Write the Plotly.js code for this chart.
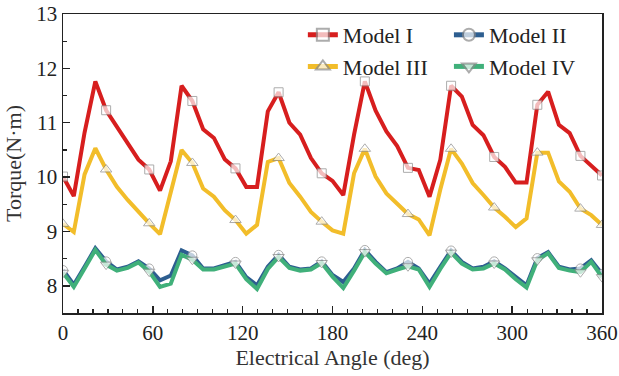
<!DOCTYPE html>
<html><head><meta charset="utf-8">
<script src="https://cdn.plot.ly/plotly-3.0.1.min.js"></script>
<style>html,body{margin:0;padding:0;background:#fff}#chart{width:619px;height:376px}</style>
</head><body><div id="chart"></div>
<script>
const angle = [0, 7.2, 14.4, 21.6, 28.8, 36, 43.2, 50.4, 57.6, 64.8, 72, 79.2, 86.4, 93.6, 100.8, 108, 115.2, 122.4, 129.6, 136.8, 144, 151.2, 158.4, 165.6, 172.8, 180, 187.2, 194.4, 201.6, 208.8, 216, 223.2, 230.4, 237.6, 244.8, 252, 259.2, 266.4, 273.6, 280.8, 288, 295.2, 302.4, 309.6, 316.8, 324, 331.2, 338.4, 345.6, 352.8, 360];

const modelI = [10.01, 9.65, 10.82, 11.76, 11.23, 10.92, 10.62, 10.32, 10.14, 9.75, 10.29, 11.68, 11.40, 10.88, 10.72, 10.33, 10.16, 9.82, 9.82, 11.21, 11.56, 11.00, 10.78, 10.35, 10.07, 9.93, 9.67, 10.78, 11.76, 11.22, 10.84, 10.57, 10.17, 10.13, 9.64, 10.32, 11.68, 11.48, 10.96, 10.77, 10.37, 10.19, 9.90, 9.90, 11.33, 11.57, 10.96, 10.81, 10.39, 10.22, 10.03];

const modelII = [8.29, 8.02, 8.35, 8.69, 8.45, 8.30, 8.35, 8.45, 8.32, 8.10, 8.19, 8.65, 8.56, 8.32, 8.32, 8.38, 8.44, 8.16, 8.01, 8.35, 8.57, 8.35, 8.30, 8.32, 8.45, 8.20, 8.07, 8.32, 8.66, 8.44, 8.25, 8.32, 8.44, 8.32, 8.04, 8.35, 8.65, 8.44, 8.32, 8.35, 8.45, 8.32, 8.16, 8.01, 8.51, 8.62, 8.35, 8.30, 8.32, 8.47, 8.22];

const modelIII = [9.14, 8.99, 10.05, 10.53, 10.14, 9.82, 9.58, 9.36, 9.15, 8.95, 9.75, 10.50, 10.26, 9.79, 9.64, 9.39, 9.21, 8.96, 9.12, 10.28, 10.35, 9.89, 9.64, 9.36, 9.18, 9.02, 8.96, 10.07, 10.52, 10.01, 9.70, 9.52, 9.32, 9.22, 8.93, 9.77, 10.52, 10.25, 9.89, 9.67, 9.44, 9.27, 9.08, 9.24, 10.45, 10.45, 9.92, 9.73, 9.42, 9.30, 9.12];

const modelIV = [8.24, 7.98, 8.32, 8.66, 8.39, 8.28, 8.33, 8.43, 8.26, 7.98, 8.04, 8.57, 8.48, 8.30, 8.30, 8.36, 8.41, 8.12, 7.94, 8.31, 8.53, 8.33, 8.28, 8.30, 8.42, 8.17, 7.96, 8.28, 8.62, 8.41, 8.23, 8.30, 8.36, 8.30, 7.98, 8.31, 8.61, 8.41, 8.30, 8.32, 8.41, 8.30, 8.12, 7.97, 8.47, 8.60, 8.33, 8.28, 8.25, 8.44, 8.16];

const seriesNames = ['Model I', 'Model II', 'Model III', 'Model IV'];
const xTickVals = [0, 60, 120, 180, 240, 300, 360];
const yTickVals = [8, 9, 10, 11, 12, 13];

const SERIF = 'Liberation Serif, Times New Roman, serif';

function markEvery(n, val) {
  return Array.from({length: n}, (_, i) => (i % 4 === 0 || i === n - 1) ? val : 0);
}

function series(name, y, color, symbol, size, legend) {
  return {
    type: 'scatter', mode: 'lines+markers', name: name, x: angle, y: y, legend: legend,
    line: {color: color, width: 4},
    marker: {symbol: symbol, color: 'white', size: markEvery(y.length, size),
             line: {color: '#8a8a8a', width: markEvery(y.length, 1)}}
  };
}

const traces = [
  series(seriesNames[0], modelI, '#d71e1e', 'square', 9, 'legend'),
  series(seriesNames[1], modelII, '#2d5e90', 'circle', 9, 'legend2'),
  series(seriesNames[2], modelIII, '#f2bd2a', 'triangle-up', 10, 'legend'),
  series(seriesNames[3], modelIV, '#40b07a', 'triangle-down', 10, 'legend2')
];

const axisCommon = {
  showline: true, linecolor: '#222', linewidth: 1.5, mirror: true,
  ticks: 'inside', ticklen: 7, tickwidth: 1.5, tickcolor: '#222',
  showgrid: false, zeroline: false,
  tickfont: {family: SERIF, size: 21, color: '#222'}
};

const legendCommon = {
  xanchor: 'left', yanchor: 'top', y: 1.0,
  bgcolor: 'rgba(0,0,0,0)', borderwidth: 0,
  font: {family: SERIF, size: 22, color: '#222'}, itemsizing: 'constant', tracegroupgap: 0
};

const layout = {
  width: 619, height: 376,
  margin: {l: 63, r: 17, t: 14, b: 63},
  paper_bgcolor: 'white', plot_bgcolor: 'white',
  font: {family: SERIF, size: 20, color: '#222'},
  xaxis: Object.assign({}, axisCommon, {
    range: [0, 360], tickmode: 'array', tickvals: xTickVals,
    minor: {dtick: 10, ticks: 'inside', ticklen: 4, tickwidth: 1.2, tickcolor: '#222', showgrid: false},
    title: {text: 'Electrical Angle (deg)', font: {family: SERIF, size: 22, color: '#333'}, standoff: 6}
  }),
  yaxis: Object.assign({}, axisCommon, {
    range: [7.5, 13], tickmode: 'array', tickvals: yTickVals,
    minor: {dtick: 0.5, ticks: 'inside', ticklen: 4, tickwidth: 1.2, tickcolor: '#222', showgrid: false},
    title: {text: 'Torque(N·m)', font: {family: SERIF, size: 22, color: '#333'}, standoff: 8}
  }),
  legend: Object.assign({}, legendCommon, {x: 0.445}),
  legend2: Object.assign({}, legendCommon, {x: 0.716}),
  showlegend: true
};

Plotly.newPlot('chart', traces, layout, {staticPlot: true, displayModeBar: false});
</script>
</body></html>
